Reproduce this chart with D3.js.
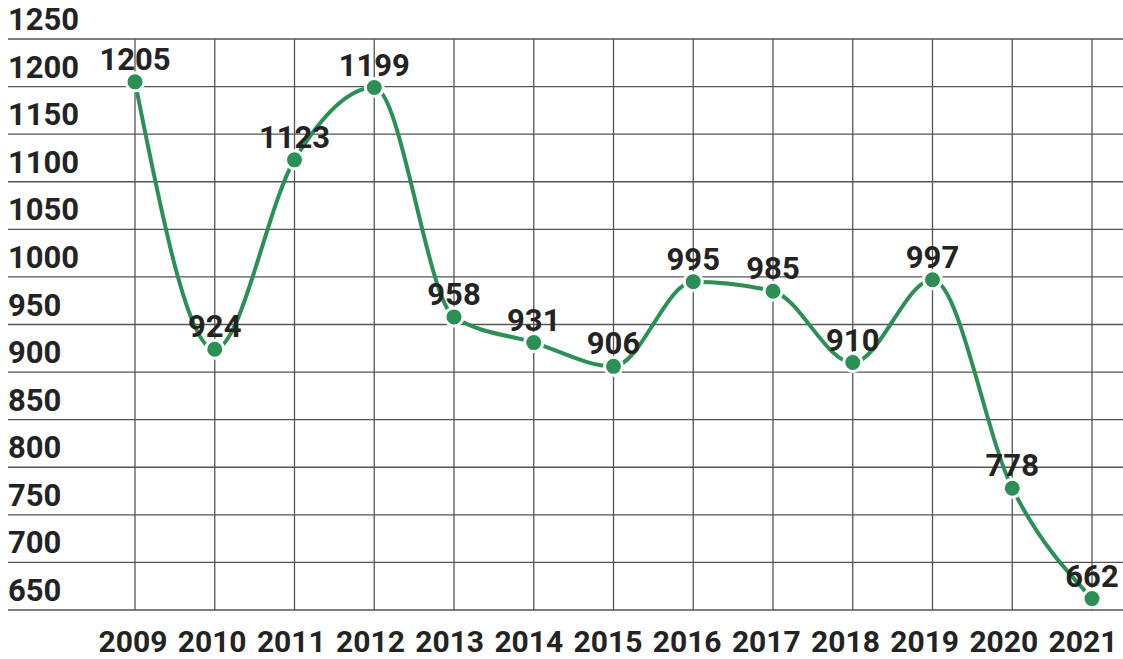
<!DOCTYPE html>
<html>
<head>
<meta charset="utf-8">
<script src="https://cdn.jsdelivr.net/npm/d3@7"></script>
<style>
  body { margin: 0; background: #fff; }
  text { font-family: Roboto, "Liberation Sans", sans-serif; font-weight: bold; fill: #232323; }
</style>
</head>
<body>
<script>
var years = ["2009", "2010", "2011", "2012", "2013", "2014", "2015", "2016", "2017", "2018", "2019", "2020", "2021"];
var values = [1205, 924, 1123, 1199, 958, 931, 906, 995, 985, 910, 997, 778, 662];
var yTicks = [650, 700, 750, 800, 850, 900, 950, 1000, 1050, 1100, 1150, 1200, 1250];

var width = 1123, height = 659;
var green = "#2b9055";

var svg = d3.select("body")
  .append("svg")
  .attr("width", width)
  .attr("height", height);

var x = d3.scalePoint()
  .domain(years)
  .range([135, 1092]);

// year labels drift a little left of their grid lines, as in the source
var xLabel = d3.scalePoint()
  .domain(years)
  .range([133, 1083]);

var y = d3.scaleLinear()
  .domain([650, 1250])
  .range([610, 39]);

// horizontal grid
svg.selectAll("line.h")
  .data(yTicks)
  .enter()
  .append("line")
  .attr("class", "h")
  .attr("x1", 8)
  .attr("x2", width)
  .attr("y1", function(d) { return y(d) })
  .attr("y2", function(d) { return y(d) })
  .attr("stroke", "#555")
  .attr("stroke-width", 1.3);

// vertical grid
svg.selectAll("line.v")
  .data(years)
  .enter()
  .append("line")
  .attr("class", "v")
  .attr("x1", function(d) { return x(d) })
  .attr("x2", function(d) { return x(d) })
  .attr("y1", y(1250))
  .attr("y2", y(650))
  .attr("stroke", "#555")
  .attr("stroke-width", 1.3);

// y labels sit just above their grid line
svg.selectAll("text.ylab")
  .data(yTicks)
  .enter()
  .append("text")
  .attr("class", "ylab")
  .attr("x", 8)
  .attr("y", function(d) { return y(d) - 9 })
  .attr("font-size", 31)
  .text(function(d) { return d });

svg.selectAll("text.xlab")
  .data(years)
  .enter()
  .append("text")
  .attr("class", "xlab")
  .attr("x", function(d) { return xLabel(d) })
  .attr("y", 652)
  .attr("text-anchor", "middle")
  .attr("font-size", 30)
  .text(function(d) { return d });

var line = d3.line()
  .x(function(d, i) { return x(years[i]) })
  .y(function(d) { return y(d) })
  .curve(d3.curveMonotoneX);

svg.append("path")
  .datum(values)
  .attr("d", line)
  .attr("fill", "none")
  .attr("stroke", green)
  .attr("stroke-width", 4);

svg.selectAll("circle")
  .data(values)
  .enter()
  .append("circle")
  .attr("cx", function(d, i) { return x(years[i]) })
  .attr("cy", function(d) { return y(d) })
  .attr("r", 9)
  .attr("fill", green)
  .attr("stroke", "#fff")
  .attr("stroke-width", 3);

svg.selectAll("text.val")
  .data(values)
  .enter()
  .append("text")
  .attr("class", "val")
  .attr("x", function(d, i) { return x(years[i]) })
  .attr("y", function(d) { return y(d) - 12 })
  .attr("text-anchor", "middle")
  .attr("font-size", 31)
  .text(function(d) { return d });
</script>
</body>
</html>
